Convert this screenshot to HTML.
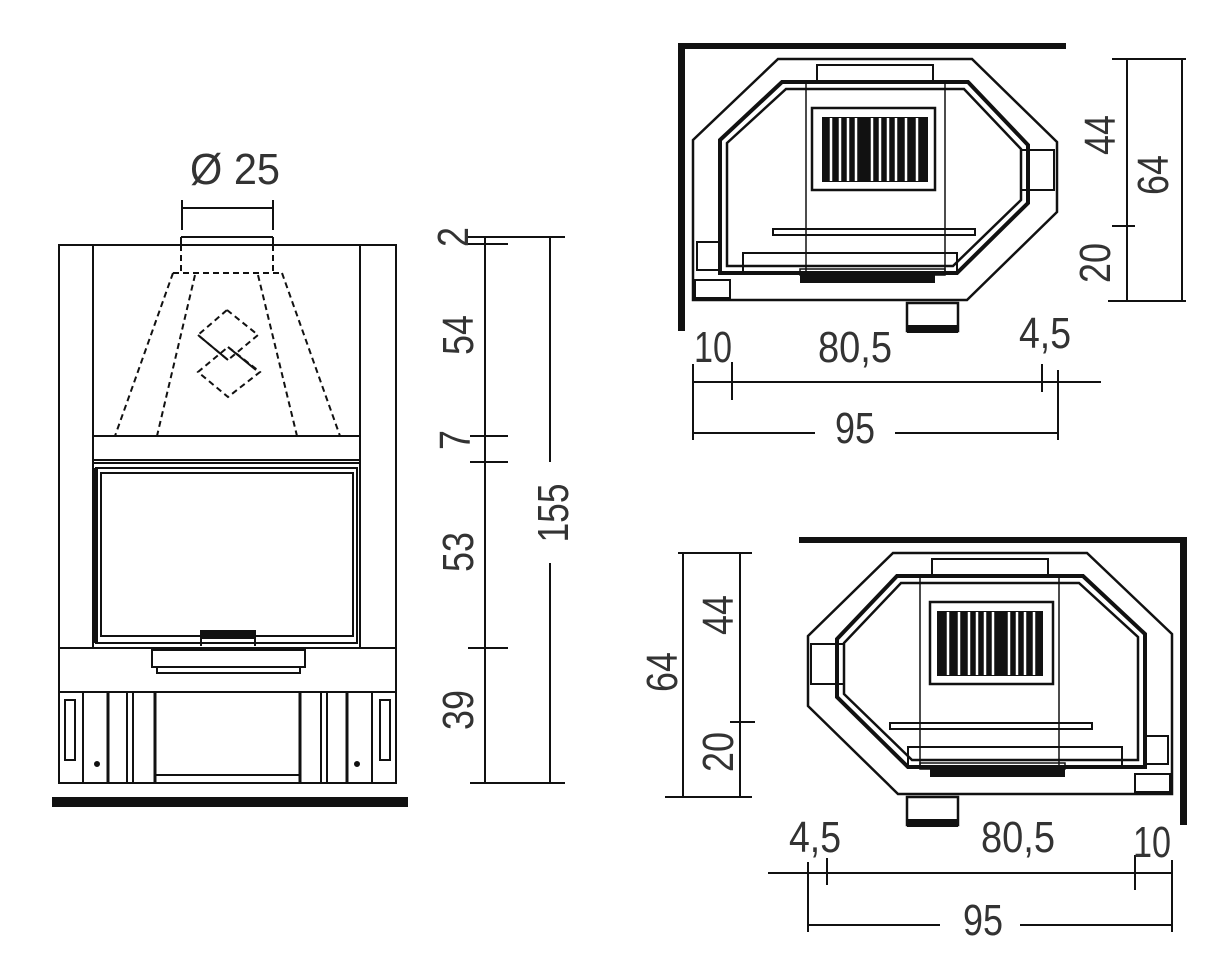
<!DOCTYPE html>
<html><head><meta charset="utf-8"><style>
html,body{margin:0;padding:0;background:#fff}
svg{display:block}
text{font-family:"Liberation Sans",sans-serif;font-size:44px;fill:#333}
</style></head><body>
<svg width="1222" height="972" viewBox="0 0 1222 972" xmlns="http://www.w3.org/2000/svg">
<defs>
<g id="plan" fill="none" stroke="#111">
  <rect x="678" y="43" width="388" height="6" fill="#111" stroke="none"/>
  <rect x="678" y="43" width="7" height="288" fill="#111" stroke="none"/>
  <polygon points="693,140 778,59 972,59 1057,142 1057,212 967,300 693,300" stroke-width="2.5"/>
  <polygon points="720,140 782,82 968,82 1028,145 1028,203 957,273 720,273" stroke-width="4"/>
  <polygon points="727,143 786,89 964,89 1021,149 1021,200 953,266 727,266" stroke-width="2.5"/>
  <rect x="817" y="65" width="116" height="17" stroke-width="2"/>
  <line x1="806" y1="82" x2="806" y2="273" stroke-width="1.5"/>
  <line x1="945" y1="82" x2="945" y2="273" stroke-width="1.5"/>
  <rect x="812" y="108" width="123" height="82" stroke-width="2.5"/>
  <rect x="822" y="117" width="106" height="65" fill="#111" stroke="none"/>
  <g stroke="#fff" stroke-width="2.5">
    <line x1="831" y1="118" x2="831" y2="181"/><line x1="840" y1="118" x2="840" y2="181"/>
    <line x1="848" y1="118" x2="848" y2="181"/><line x1="856" y1="118" x2="856" y2="181"/>
    <line x1="872" y1="118" x2="872" y2="181"/><line x1="880" y1="118" x2="880" y2="181"/>
    <line x1="888" y1="118" x2="888" y2="181"/><line x1="896" y1="118" x2="896" y2="181"/>
    <line x1="906" y1="118" x2="906" y2="181"/><line x1="917" y1="118" x2="917" y2="181"/>
  </g>
  <rect x="773" y="229" width="202" height="6" stroke-width="2"/>
  <rect x="743" y="253" width="214" height="20" stroke-width="2"/>
  <rect x="800" y="269" width="145" height="6" stroke-width="1.5"/>
  <rect x="800" y="275" width="135" height="8" fill="#111" stroke="none"/>
  <rect x="697" y="242" width="22" height="28" stroke-width="2"/>
  <rect x="695" y="280" width="35" height="18" stroke-width="2"/>
  <rect x="1021" y="150" width="33" height="40" stroke-width="2"/>
  <rect x="907" y="303" width="51" height="28" stroke-width="2.5"/>
  <rect x="907" y="325" width="51" height="8" fill="#111" stroke="none"/>
</g>
</defs>

<!-- FRONT VIEW -->
<g fill="none" stroke="#111" stroke-width="2">
  <rect x="59" y="245" width="337" height="538"/>
  <line x1="93" y1="245" x2="93" y2="648"/>
  <line x1="360" y1="245" x2="360" y2="648"/>
  <line x1="93" y1="436" x2="360" y2="436"/>
  <line x1="93" y1="460" x2="360" y2="460"/>
  <line x1="93" y1="463" x2="360" y2="463"/>
  <rect x="96" y="468" width="261" height="175"/>
  <rect x="101" y="473" width="252" height="163"/>
  <line x1="96" y1="468" x2="96" y2="643" stroke-width="4"/>
  <rect x="201" y="631" width="54" height="7" fill="#111"/>
  <line x1="201" y1="638" x2="201" y2="646"/><line x1="255" y1="638" x2="255" y2="646"/>
  <line x1="59" y1="648" x2="396" y2="648"/>
  <rect x="152" y="650" width="153" height="17"/>
  <rect x="157" y="667" width="143" height="6"/>
  <line x1="59" y1="692" x2="396" y2="692"/>
  <rect x="65" y="700" width="10" height="60"/>
  <rect x="380" y="700" width="10" height="60"/>
  <line x1="83" y1="692" x2="83" y2="783"/><line x1="372" y1="692" x2="372" y2="783"/>
  <line x1="108" y1="692" x2="108" y2="783" stroke-width="3"/>
  <line x1="127" y1="692" x2="127" y2="783"/><line x1="133" y1="692" x2="133" y2="783"/>
  <line x1="155" y1="692" x2="155" y2="783" stroke-width="3"/>
  <line x1="300" y1="692" x2="300" y2="783" stroke-width="3"/>
  <line x1="321" y1="692" x2="321" y2="783"/><line x1="327" y1="692" x2="327" y2="783"/>
  <line x1="347" y1="692" x2="347" y2="783" stroke-width="3"/>
  <line x1="155" y1="775" x2="300" y2="775"/>
  <circle cx="97" cy="764" r="2" fill="#111"/><circle cx="357" cy="764" r="2" fill="#111"/>
  <line x1="181" y1="237" x2="273" y2="237"/>
  <line x1="181" y1="237" x2="181" y2="245"/><line x1="273" y1="237" x2="273" y2="245"/>
  <g stroke-dasharray="6,4">
    <line x1="181" y1="245" x2="181" y2="273"/><line x1="273" y1="245" x2="273" y2="273"/>
    <line x1="173" y1="273" x2="282" y2="273"/>
    <line x1="173" y1="273" x2="115" y2="436"/><line x1="282" y1="273" x2="340" y2="436"/>
    <line x1="195" y1="275" x2="157" y2="436"/><line x1="258" y1="275" x2="297" y2="436"/>
    <polygon points="227,310 258,335 228,360 198,335"/>
    <polygon points="228,347 260,372 228,397 198,372"/>
  </g>
  <line x1="198" y1="335" x2="228" y2="360"/>
  <line x1="228" y1="347" x2="256" y2="370"/>
  <line x1="182" y1="208" x2="273" y2="208"/>
  <line x1="182" y1="200" x2="182" y2="230"/><line x1="273" y1="200" x2="273" y2="230"/>
</g>
<rect x="52" y="797" width="356" height="10" fill="#111"/>
<text x="190" y="184" textLength="90" lengthAdjust="spacingAndGlyphs">Ø 25</text>

<g stroke="#111" stroke-width="2" fill="none">
  <line x1="485" y1="237" x2="485" y2="783"/>
  <line x1="467" y1="237" x2="565" y2="237"/>
  <line x1="467" y1="244" x2="508" y2="244"/>
  <line x1="470" y1="436" x2="508" y2="436"/>
  <line x1="470" y1="462" x2="508" y2="462"/>
  <line x1="468" y1="648" x2="508" y2="648"/>
  <line x1="470" y1="783" x2="565" y2="783"/>
  <line x1="550" y1="237" x2="550" y2="462"/>
  <line x1="550" y1="563" x2="550" y2="783"/>
</g>
<g>
  <text transform="translate(468,237) rotate(-90)" text-anchor="middle" textLength="20" lengthAdjust="spacingAndGlyphs">2</text>
  <text transform="translate(473,335) rotate(-90)" text-anchor="middle" textLength="40" lengthAdjust="spacingAndGlyphs">54</text>
  <text transform="translate(470,440) rotate(-90)" text-anchor="middle" textLength="20" lengthAdjust="spacingAndGlyphs">7</text>
  <text transform="translate(473,552) rotate(-90)" text-anchor="middle" textLength="40" lengthAdjust="spacingAndGlyphs">53</text>
  <text transform="translate(473,710) rotate(-90)" text-anchor="middle" textLength="40" lengthAdjust="spacingAndGlyphs">39</text>
  <text transform="translate(568,513) rotate(-90)" text-anchor="middle" textLength="59" lengthAdjust="spacingAndGlyphs">155</text>
</g>

<use href="#plan"/>
<g stroke="#111" stroke-width="2" fill="none">
  <line x1="693" y1="382" x2="1101" y2="382"/>
  <line x1="693" y1="364" x2="693" y2="440"/>
  <line x1="732" y1="362" x2="732" y2="400"/>
  <line x1="1042" y1="364" x2="1042" y2="392"/>
  <line x1="1058" y1="370" x2="1058" y2="440"/>
  <line x1="693" y1="433" x2="815" y2="433"/>
  <line x1="895" y1="433" x2="1058" y2="433"/>
  <line x1="1127" y1="59" x2="1127" y2="301"/>
  <line x1="1182" y1="59" x2="1182" y2="301"/>
  <line x1="1112" y1="59" x2="1186" y2="59"/>
  <line x1="1112" y1="226" x2="1135" y2="226"/>
  <line x1="1108" y1="301" x2="1186" y2="301"/>
</g>
<text x="713" y="362" text-anchor="middle" textLength="38" lengthAdjust="spacingAndGlyphs">10</text>
<text x="855" y="362" text-anchor="middle" textLength="74" lengthAdjust="spacingAndGlyphs">80,5</text>
<text x="1045" y="348" text-anchor="middle" textLength="52" lengthAdjust="spacingAndGlyphs">4,5</text>
<text x="855" y="443" text-anchor="middle" textLength="40" lengthAdjust="spacingAndGlyphs">95</text>
<text transform="translate(1115,135) rotate(-90)" text-anchor="middle" textLength="40" lengthAdjust="spacingAndGlyphs">44</text>
<text transform="translate(1168,175) rotate(-90)" text-anchor="middle" textLength="40" lengthAdjust="spacingAndGlyphs">64</text>
<text transform="translate(1110,263) rotate(-90)" text-anchor="middle" textLength="40" lengthAdjust="spacingAndGlyphs">20</text>

<use href="#plan" transform="translate(1865,494) scale(-1,1)"/>
<g stroke="#111" stroke-width="2" fill="none">
  <line x1="683" y1="553" x2="683" y2="797"/>
  <line x1="740" y1="553" x2="740" y2="797"/>
  <line x1="678" y1="553" x2="752" y2="553"/>
  <line x1="730" y1="722" x2="755" y2="722"/>
  <line x1="665" y1="797" x2="752" y2="797"/>
  <line x1="768" y1="873" x2="1172" y2="873"/>
  <line x1="808" y1="862" x2="808" y2="932"/>
  <line x1="827" y1="858" x2="827" y2="885"/>
  <line x1="1135" y1="855" x2="1135" y2="890"/>
  <line x1="1172" y1="860" x2="1172" y2="932"/>
  <line x1="808" y1="925" x2="940" y2="925"/>
  <line x1="1020" y1="925" x2="1172" y2="925"/>
</g>
<text x="815" y="852" text-anchor="middle" textLength="52" lengthAdjust="spacingAndGlyphs">4,5</text>
<text x="1018" y="852" text-anchor="middle" textLength="74" lengthAdjust="spacingAndGlyphs">80,5</text>
<text x="1152" y="857" text-anchor="middle" textLength="38" lengthAdjust="spacingAndGlyphs">10</text>
<text x="983" y="935" text-anchor="middle" textLength="40" lengthAdjust="spacingAndGlyphs">95</text>
<text transform="translate(677,672) rotate(-90)" text-anchor="middle" textLength="40" lengthAdjust="spacingAndGlyphs">64</text>
<text transform="translate(733,615) rotate(-90)" text-anchor="middle" textLength="40" lengthAdjust="spacingAndGlyphs">44</text>
<text transform="translate(733,752) rotate(-90)" text-anchor="middle" textLength="40" lengthAdjust="spacingAndGlyphs">20</text>
</svg>
</body></html>
